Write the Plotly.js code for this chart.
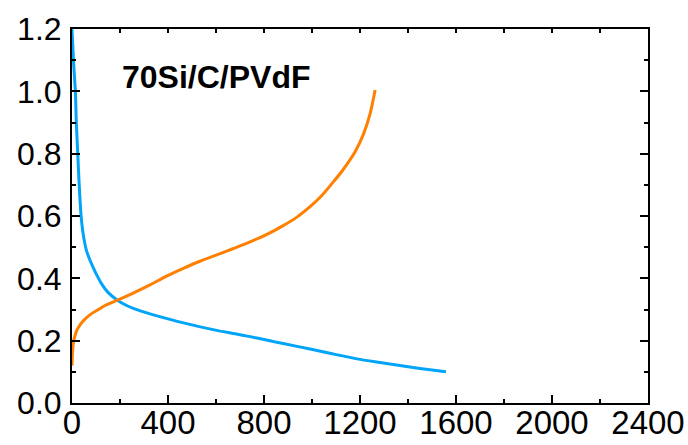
<!DOCTYPE html>
<html>
<head>
<meta charset="utf-8">
<script src="https://cdn.plot.ly/plotly-3.0.1.min.js"></script>
<style>html,body{margin:0;padding:0;background:#fff}#chart{width:688px;height:445px}</style>
</head>
<body>
<div id="chart"></div>
<script>
// Discharge (blue) curve: capacity (mAh/g) vs voltage (V)
const dischargeCapacity = [0, 3, 6, 10, 14, 18, 24, 30, 38, 46, 60, 75, 87, 105, 122, 150, 189, 230, 261, 325, 400, 464, 530, 603, 680, 742, 810, 880, 992, 1089, 1200, 1325, 1450, 1558];
const dischargeVoltage  = [1.2, 1.15, 1.1, 1.05, 1.0, 0.9, 0.8, 0.7, 0.6, 0.545, 0.49, 0.458, 0.437, 0.408, 0.384, 0.355, 0.33, 0.312, 0.302, 0.286, 0.27, 0.257, 0.245, 0.233, 0.222, 0.213, 0.202, 0.191, 0.173, 0.157, 0.14, 0.125, 0.111, 0.1];
// Charge (orange) curve
const chargeCapacity = [0, 2, 5, 12, 20, 33, 50, 80, 110, 136, 189, 261, 325, 394, 464, 530, 603, 670, 742, 810, 880, 940, 992, 1040, 1082, 1131, 1179, 1214, 1242, 1263];
const chargeVoltage  = [0.12, 0.16, 0.19, 0.215, 0.233, 0.25, 0.266, 0.286, 0.3, 0.312, 0.33, 0.355, 0.379, 0.407, 0.432, 0.454, 0.475, 0.495, 0.517, 0.54, 0.569, 0.598, 0.63, 0.665, 0.703, 0.75, 0.805, 0.862, 0.928, 1.004];
const sampleLabel = "70Si/C/PVdF";
const xTicks = [0, 400, 800, 1200, 1600, 2000, 2400];
const yTicks = [0.0, 0.2, 0.4, 0.6, 0.8, 1.0, 1.2];

const FONT = "Liberation Sans, Arial, sans-serif";

const traces = [
  {x: dischargeCapacity, y: dischargeVoltage, mode: 'lines', line: {color: '#00A4F8', width: 3, shape: 'spline', smoothing: 0.8}, showlegend: false, hoverinfo: 'skip'},
  {x: chargeCapacity, y: chargeVoltage, mode: 'lines', line: {color: '#FF7F00', width: 3, shape: 'spline', smoothing: 0.8}, showlegend: false, hoverinfo: 'skip'},
  {x: [], y: [], xaxis: 'x2', mode: 'lines', showlegend: false, hoverinfo: 'skip'}
];

const layout = {
  width: 688, height: 445,
  margin: {l: 72, r: 40, t: 29, b: 42, pad: 0},
  paper_bgcolor: '#fff', plot_bgcolor: '#fff',
  font: {family: FONT, color: '#000'},
  xaxis: {
    range: [0, 2400], tickvals: xTicks, ticktext: xTicks.map(String),
    ticks: 'inside', ticklen: 8, tickwidth: 2, tickcolor: '#000',
    minor: {ticks: 'inside', ticklen: 4, tickwidth: 2, dtick: 200, tick0: 0, tickcolor: '#000'},
    showline: true, linewidth: 2, linecolor: '#000', mirror: true,
    showgrid: false, zeroline: false,
    tickfont: {size: 33, family: FONT, color: '#000'}, ticklabelstandoff: -11
  },
  xaxis2: {
    overlaying: 'x', side: 'top', range: [0, 2400], dtick: 200, tick0: 0,
    ticks: 'inside', ticklen: 4, tickwidth: 2, tickcolor: '#000',
    showticklabels: false, showline: false, showgrid: false, zeroline: false
  },
  yaxis: {
    range: [0, 1.2], tickvals: yTicks, ticktext: yTicks.map(v => v.toFixed(1)),
    ticks: 'inside', ticklen: 8, tickwidth: 2, tickcolor: '#000',
    minor: {ticks: 'inside', ticklen: 4, tickwidth: 2, dtick: 0.1, tick0: 0, tickcolor: '#000'},
    showline: true, linewidth: 2, linecolor: '#000', mirror: 'ticks',
    showgrid: false, zeroline: false,
    tickfont: {size: 32, family: FONT, color: '#000'}, ticklabelstandoff: 2
  },
  annotations: [{
    text: '<b>' + sampleLabel + '</b>', xref: 'paper', yref: 'paper',
    x: 0.083, y: 0.872, xanchor: 'left', yanchor: 'middle', showarrow: false,
    font: {size: 32, family: FONT, color: '#000'}
  }]
};

Plotly.newPlot('chart', traces, layout, {staticPlot: true, displayModeBar: false});
</script>
</body>
</html>
